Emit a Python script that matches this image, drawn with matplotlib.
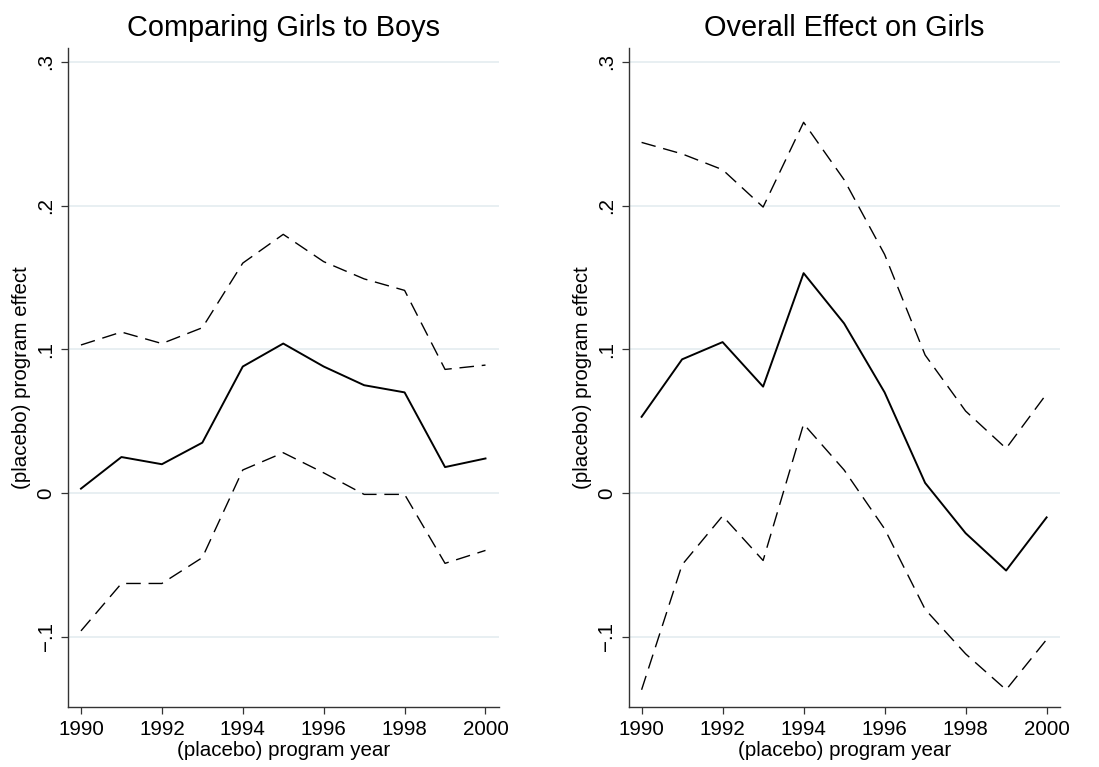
import matplotlib
matplotlib.use("Agg")
import matplotlib.pyplot as plt

plt.rcParams["font.family"] = ["Liberation Sans", "DejaVu Sans"]

years = list(range(1990, 2001))

# Comparing Girls to Boys
gb_est = [0.003, 0.025, 0.020, 0.035, 0.088, 0.104, 0.088, 0.075, 0.070, 0.018, 0.024]
gb_hi = [0.103, 0.112, 0.104, 0.115, 0.160, 0.180, 0.161, 0.149, 0.141, 0.086, 0.089]
gb_lo = [-0.096, -0.063, -0.063, -0.045, 0.016, 0.028, 0.014, -0.001, -0.001, -0.049, -0.040]

# Overall Effect on Girls
og_est = [0.053, 0.093, 0.105, 0.074, 0.153, 0.118, 0.070, 0.007, -0.028, -0.054, -0.017]
og_hi = [0.244, 0.236, 0.225, 0.199, 0.258, 0.218, 0.166, 0.096, 0.057, 0.031, 0.069]
og_lo = [-0.137, -0.050, -0.016, -0.047, 0.048, 0.016, -0.025, -0.081, -0.112, -0.137, -0.102]

titles = ["Comparing Girls to Boys", "Overall Effect on Girls"]
yticks = [-0.1, 0, 0.1, 0.2, 0.3]
ytick_labels = ["\u2212.1", "0", ".1", ".2", ".3"]
xticks = list(range(1990, 2001, 2))

fig = plt.figure(figsize=(10.99, 7.67), dpi=100)
ax1 = fig.add_axes([0.0619, 0.0782, 0.392, 0.8592])
ax2 = fig.add_axes([0.572, 0.0782, 0.3925, 0.8592])

panels = [(ax1, gb_est, gb_hi, gb_lo), (ax2, og_est, og_hi, og_lo)]
dash = (0, (10.5, 5.6))
for i, (ax, est, hi, lo) in enumerate(panels):
    for y in yticks:
        ax.axhline(y, color="#e6eef1", lw=1.3, zorder=0)
    ax.plot(years, hi, color="black", lw=1.0, linestyle=dash)
    ax.plot(years, est, color="black", lw=1.4)
    ax.plot(years, lo, color="black", lw=1.0, linestyle=dash)

    ax.set_xlim(1989.68, 2000.33)
    ax.set_ylim(-0.149, 0.3097)
    ax.set_yticks(yticks)
    ax.set_yticklabels(ytick_labels, rotation=90, va="center")
    ax.set_xticks(xticks)
    ax.tick_params(axis="both", direction="out", length=5, width=0.9,
                   color="#333333", labelsize=14.8, pad=4)
    for s in ["top", "right"]:
        ax.spines[s].set_visible(False)
    for s in ["left", "bottom"]:
        ax.spines[s].set_color("#333333")
        ax.spines[s].set_linewidth(1.0)
    ax.set_title(titles[i], fontsize=20.8, pad=9)
    ax.set_xlabel("(placebo) program year", fontsize=14.8, labelpad=2)
    ax.set_ylabel("(placebo) program effect", fontsize=14.8, labelpad=4)

fig.savefig("out.png", dpi=100)
